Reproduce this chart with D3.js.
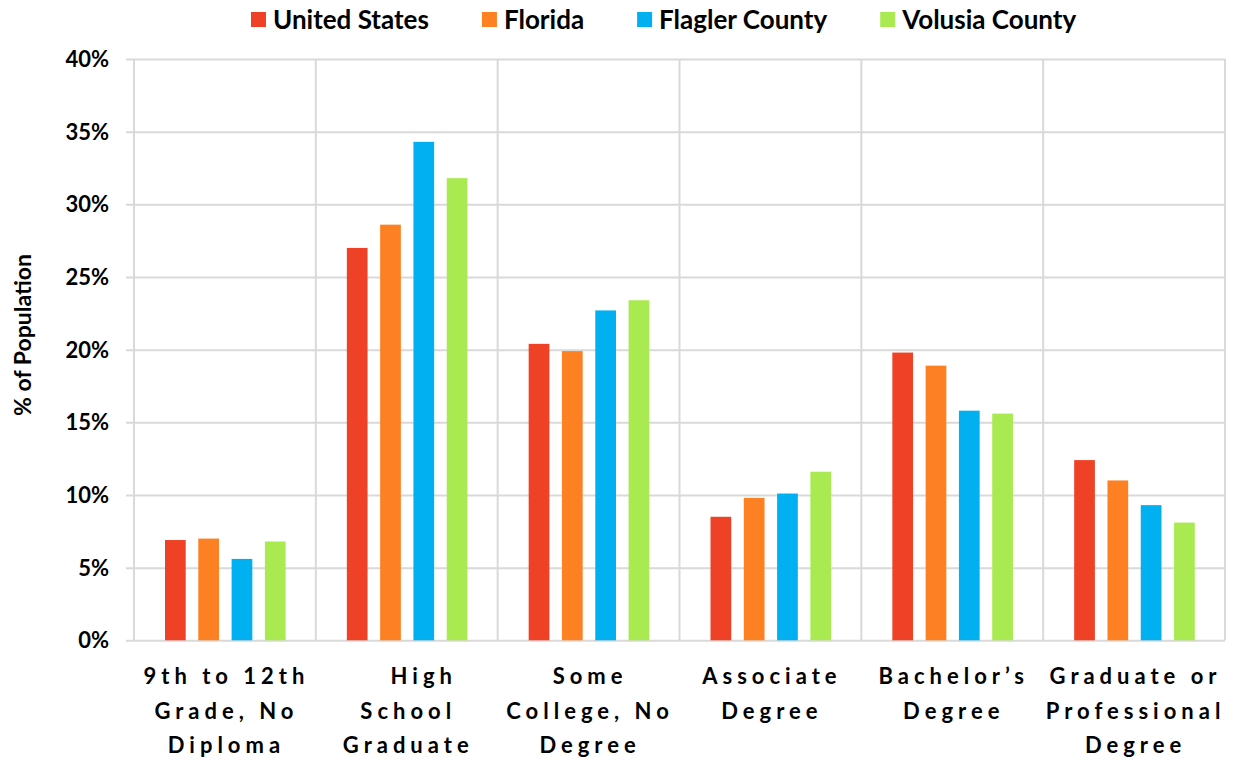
<!DOCTYPE html>
<html>
<head>
<meta charset="utf-8">
<script src="https://cdn.jsdelivr.net/npm/d3@7"></script>
<style>
  html, body { margin: 0; padding: 0; background: #fff; }
  svg { display: block; }
  text { font-family: Lato, "Open Sans", sans-serif; font-weight: 700; fill: #000; }
</style>
</head>
<body>
<svg id="chart" width="1236" height="761"></svg>
<script>
const categories = ["9th to 12th Grade, No Diploma", "High School Graduate", "Some College, No Degree", "Associate Degree", "Bachelor’s Degree", "Graduate or Professional Degree"];
const categoryLines = [
  ["9th to 12th", "Grade, No", "Diploma"],
  ["\u00a0\u00a0\u00a0High", "School", "Graduate"],
  ["Some", "College, No", "Degree"],
  ["Associate", "Degree"],
  ["Bachelor’s", "Degree"],
  ["Graduate or", "Professional", "Degree"]
];
const seriesNames = ["United States", "Florida", "Flagler County", "Volusia County"];
const seriesColors = ["#EF4125", "#FD8023", "#00B0F0", "#A9EA50"];
const unitedStates = [6.9, 27.0, 20.4, 8.5, 19.8, 12.4];
const florida = [7.0, 28.6, 19.9, 9.8, 18.9, 11.0];
const flaglerCounty = [5.6, 34.3, 22.7, 10.1, 15.8, 9.3];
const volusiaCounty = [6.8, 31.8, 23.4, 11.6, 15.6, 8.1];
const yTicks = [0, 5, 10, 15, 20, 25, 30, 35, 40];
const yTitle = "% of Population";

const seriesValues = [unitedStates, florida, flaglerCounty, volusiaCounty];

const svg = d3.select("#chart");
const plot = { left: 134, right: 1225, top: 59, bottom: 640.3 };
const gridColor = "#D9D9D9";

const x = d3.scaleBand().domain(categories).range([plot.left, plot.right]).padding(0);
const bw = x.bandwidth();
const xs = d3.scaleBand().domain(seriesNames)
  .range([bw * 0.1705, bw * 0.8338]).paddingInner(0.378).paddingOuter(0);
const y = d3.scaleLinear().domain([0, 40]).range([plot.bottom, plot.top]);

// horizontal gridlines (extend 8px left of plot as tick marks)
const gy = svg.append("g").attr("transform", `translate(${plot.right},0)`);
gy.call(d3.axisLeft(y).tickValues(yTicks).tickSize(plot.right - plot.left + 8).tickFormat(""));
gy.select(".domain").remove();
gy.selectAll(".tick line").attr("stroke", gridColor).attr("stroke-width", 2);

// tick labels
svg.append("g").selectAll("text").data(yTicks).join("text")
  .attr("x", 109).attr("y", d => y(d)).attr("dy", "0.36em")
  .attr("text-anchor", "end").attr("font-size", 22).attr("font-weight", 900)
  .text(d => d + "%");

// vertical category separators
const bounds = categories.map(c => x(c)).concat([plot.right]);
svg.append("g").selectAll("line").data(bounds).join("line")
  .attr("x1", d => d).attr("x2", d => d)
  .attr("y1", plot.top).attr("y2", plot.bottom)
  .attr("stroke", gridColor).attr("stroke-width", 2);

// bars
const groups = svg.append("g").selectAll("g").data(categories).join("g")
  .attr("transform", c => `translate(${x(c)},0)`);
groups.selectAll("rect")
  .data((c, i) => seriesNames.map((s, j) => ({ s, j, v: seriesValues[j][i] })))
  .join("rect")
  .attr("x", d => xs(d.s))
  .attr("width", xs.bandwidth())
  .attr("y", d => y(d.v))
  .attr("height", d => y(0) - y(d.v))
  .attr("fill", d => seriesColors[d.j]);

// category labels
const cl = svg.append("g").selectAll("text").data(categories).join("text")
  .attr("text-anchor", "middle").attr("font-size", 22).attr("letter-spacing", 5);
cl.each(function (c, i) {
  const t = d3.select(this);
  categoryLines[i].forEach((line, k) => {
    t.append("tspan").attr("x", x(c) + bw / 2 + 1.5).attr("y", 684 + k * 34.5).text(line);
  });
});

// y-axis title
svg.append("text")
  .attr("transform", `translate(31,335) rotate(-90)`)
  .attr("text-anchor", "middle").attr("font-size", 23)
  .text(yTitle);

// legend
const legend = svg.append("g");
let lx = 251;
seriesNames.forEach((name, j) => {
  const g = legend.append("g");
  g.append("rect").attr("x", lx).attr("y", 12).attr("width", 15).attr("height", 15).attr("fill", seriesColors[j]);
  const t = g.append("text").attr("x", lx + 22).attr("y", 20).attr("dy", "0.36em")
    .attr("font-size", 26).text(name);
  const w = t.node().getComputedTextLength();
  lx = lx + 22 + w + 53;
});
</script>
</body>
</html>
